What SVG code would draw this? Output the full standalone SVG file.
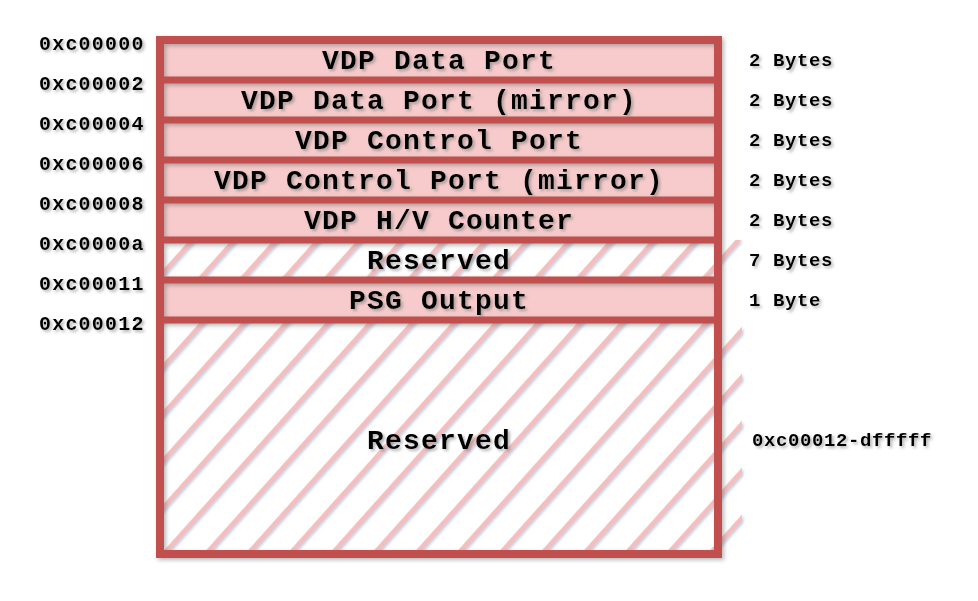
<svg xmlns="http://www.w3.org/2000/svg" width="978" height="601" viewBox="0 0 978 601">
  <defs>
    <style>
      .cell { fill: #F7CBCB; }
      .blank { fill: #FFFFFF; }
      .hatch { fill: url(#hatch); filter: url(#lineShadow); }
      .frame { fill: none; stroke: #C0504D; stroke-width: 8; }
      .div { stroke: #C0504D; stroke-width: 7; }
      .title { font-family: "Liberation Mono", "Courier New", monospace; font-weight: bold; font-size: 28px; letter-spacing: 1.2px; fill: #000; text-anchor: middle; filter: url(#textShadow); }
      .addr { font-family: "Liberation Mono", "Courier New", monospace; font-weight: bold; font-size: 20px; letter-spacing: 1.2px; fill: #000; filter: url(#textShadow); }
      .size { font-family: "Liberation Mono", "Courier New", monospace; font-weight: bold; font-size: 19px; letter-spacing: 0.6px; fill: #000; filter: url(#textShadow); }
    </style>
    <pattern id="hatch" patternUnits="userSpaceOnUse" width="31.3" height="20" patternTransform="rotate(41.8)">
      <line x1="21.9" y1="-5" x2="21.9" y2="25" stroke="#F3BEBD" stroke-width="4.5"/>
    </pattern>
    <filter id="lineShadow" x="-5%" y="-5%" width="110%" height="110%">
      <feDropShadow dx="1.5" dy="1.5" stdDeviation="1" flood-color="#8C9CC4" flood-opacity="0.5"/>
    </filter>
    <filter id="textShadow" x="-10%" y="-30%" width="120%" height="160%">
      <feDropShadow dx="2" dy="2" stdDeviation="1.5" flood-color="#707070" flood-opacity="0.55"/>
    </filter>
    <filter id="frameShadow" x="-5%" y="-5%" width="110%" height="110%">
      <feDropShadow dx="2" dy="2" stdDeviation="2" flood-color="#606060" flood-opacity="0.45"/>
    </filter>
  </defs>

  <rect x="0" y="0" width="978" height="601" fill="#FFFFFF"/>

  <g id="cells">
    <g id="vdp-data-port">
      <rect class="cell" x="160" y="40" width="558" height="40"/>
      <text class="title" x="439" y="69">VDP Data Port</text>
    </g>
    <g id="vdp-data-port-mirror">
      <rect class="cell" x="160" y="80" width="558" height="40"/>
      <text class="title" x="439" y="109">VDP Data Port (mirror)</text>
    </g>
    <g id="vdp-control-port">
      <rect class="cell" x="160" y="120" width="558" height="40"/>
      <text class="title" x="439" y="149">VDP Control Port</text>
    </g>
    <g id="vdp-control-port-mirror">
      <rect class="cell" x="160" y="160" width="558" height="40"/>
      <text class="title" x="439" y="189">VDP Control Port (mirror)</text>
    </g>
    <g id="vdp-hv-counter">
      <rect class="cell" x="160" y="200" width="558" height="40"/>
      <text class="title" x="439" y="229">VDP H/V Counter</text>
    </g>
    <g id="reserved-small">
      <rect class="blank" x="160" y="240" width="558" height="40"/>
      <rect class="hatch" x="160" y="240" width="582" height="40"/>
      <text class="title" x="439" y="269">Reserved</text>
    </g>
    <g id="psg-output">
      <rect class="cell" x="160" y="280" width="558" height="40"/>
      <text class="title" x="439" y="309">PSG Output</text>
    </g>
    <g id="reserved-large">
      <rect class="blank" x="160" y="320" width="558" height="234"/>
      <rect class="hatch" x="160" y="320" width="582" height="234"/>
      <text class="title" x="439" y="449">Reserved</text>
    </g>
  </g>

  <g id="frame" filter="url(#frameShadow)">
    <rect class="frame" x="160" y="40" width="558" height="514"/>
    <line class="div" x1="160" y1="80" x2="718" y2="80"/>
    <line class="div" x1="160" y1="120" x2="718" y2="120"/>
    <line class="div" x1="160" y1="160" x2="718" y2="160"/>
    <line class="div" x1="160" y1="200" x2="718" y2="200"/>
    <line class="div" x1="160" y1="240" x2="718" y2="240"/>
    <line class="div" x1="160" y1="280" x2="718" y2="280"/>
    <line class="div" x1="160" y1="320" x2="718" y2="320"/>
  </g>

  <g id="addresses">
    <text class="addr" x="39" y="50">0xc00000</text>
    <text class="addr" x="39" y="90">0xc00002</text>
    <text class="addr" x="39" y="130">0xc00004</text>
    <text class="addr" x="39" y="170">0xc00006</text>
    <text class="addr" x="39" y="210">0xc00008</text>
    <text class="addr" x="39" y="250">0xc0000a</text>
    <text class="addr" x="39" y="290">0xc00011</text>
    <text class="addr" x="39" y="330">0xc00012</text>
  </g>

  <g id="sizes">
    <text class="size" x="749" y="66">2 Bytes</text>
    <text class="size" x="749" y="106">2 Bytes</text>
    <text class="size" x="749" y="146">2 Bytes</text>
    <text class="size" x="749" y="186">2 Bytes</text>
    <text class="size" x="749" y="226">2 Bytes</text>
    <text class="size" x="749" y="266">7 Bytes</text>
    <text class="size" x="749" y="306">1 Byte</text>
    <text class="size" x="752" y="446">0xc00012-dfffff</text>
  </g>
</svg>
